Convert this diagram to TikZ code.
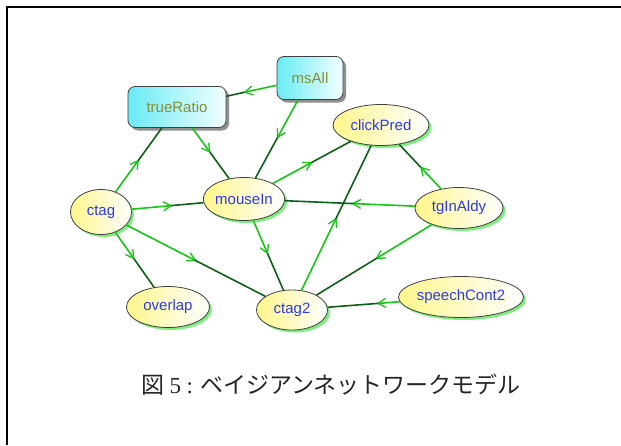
\documentclass[tikz,border=0pt]{standalone}
\usepackage{fontspec}
\setmainfont{Liberation Sans}
\newfontfamily\jpfont{Noto Sans CJK JP}
\newfontfamily\numfont{Liberation Serif}
\usetikzlibrary{calc,arrows.meta,shapes.geometric,shadows}

\definecolor{nodeyellow}{RGB}{255,246,140}
\definecolor{glowgreen}{RGB}{70,230,70}
\definecolor{edgegreen}{RGB}{25,195,25}
\definecolor{edgedark}{RGB}{15,95,25}
\definecolor{boxcyan}{RGB}{105,235,245}
\definecolor{labelblue}{RGB}{45,60,225}
\definecolor{labelolive}{RGB}{140,140,50}

\tikzset{
  x=1pt, y=-1pt,
  varnode/.style={ellipse, draw=black!75, line width=0.8pt, inner sep=0pt,
    left color=nodeyellow, right color=white, text=labelblue,
    font=\fontsize{15}{15}\selectfont,
    drop shadow={shadow xshift=2.5pt, shadow yshift=-2.5pt, fill=glowgreen, opacity=0.7}},
  boxnode/.style={rectangle, rounded corners=7pt, draw=black!75, line width=0.8pt,
    inner sep=0pt, left color=boxcyan, right color=white!95!cyan, text=labelolive,
    font=\fontsize{15}{15}\selectfont,
    drop shadow={shadow xshift=3pt, shadow yshift=-3pt, fill=black!55, opacity=0.8}},
  srcpart/.style={draw=edgegreen, line width=1.6pt,
    -{Straight Barb[length=8pt,width=9pt,line width=1.3pt]}},
  dstpart/.style={draw=edgedark, line width=1.6pt},
  frameline/.style={line width=1.6pt, black},
}

% directed edge: bright half leaving the parent, dark half entering the child
\newcommand\bnedge[2]{%
  \draw[srcpart] (#1) -- ($(#1)!0.5!(#2)$);
  \draw[dstpart] ($(#1)!0.49!(#2)$) -- (#2);
}

\begin{document}
\begin{tikzpicture}
\useasboundingbox (0,0) rectangle (621,445);
\fill[white] (0,0) rectangle (621,445);
\draw[frameline] (7,445) -- (7,7) -- (621,7);

% nodes
\node[boxnode, minimum width=98pt, minimum height=41pt] (trueRatio) at (177,107) {trueRatio};
\node[boxnode, minimum width=66pt, minimum height=43pt] (msAll) at (310,78) {msAll};
\node[varnode, minimum width=96pt, minimum height=41pt] (clickPred) at (381,125) {clickPred};
\node[varnode, minimum width=88pt, minimum height=41pt] (tgInAldy) at (459,208) {tgInAldy};
\node[varnode, minimum width=61pt, minimum height=45pt] (ctag) at (101,212) {ctag};
\node[varnode, minimum width=78pt, minimum height=43pt] (mouseIn) at (244,199) {mouseIn};
\node[varnode, minimum width=83pt, minimum height=41pt] (overlap) at (168,307) {overlap};
\node[varnode, minimum width=71pt, minimum height=40pt] (ctag2) at (292,310) {ctag2};
\node[varnode, minimum width=123pt, minimum height=41pt] (speechCont2) at (461,297) {speechCont2};

% edges
\bnedge{msAll}{trueRatio}
\bnedge{msAll}{mouseIn}
\bnedge{trueRatio}{mouseIn}
\bnedge{ctag}{trueRatio}
\bnedge{mouseIn}{clickPred}
\bnedge{ctag}{mouseIn}
\bnedge{tgInAldy}{mouseIn}
\bnedge{tgInAldy}{clickPred}
\bnedge{ctag}{overlap}
\bnedge{ctag}{ctag2}
\bnedge{mouseIn}{ctag2}
\bnedge{ctag2}{clickPred}
\bnedge{tgInAldy}{ctag2}
\bnedge{speechCont2}{ctag2}

% caption
\node[font=\jpfont\fontsize{23}{23}\selectfont, text=black!85] (caption) at (331,385)
  {図 {\numfont 5 :} ベイジアンネットワークモデル};
\end{tikzpicture}
\end{document}
